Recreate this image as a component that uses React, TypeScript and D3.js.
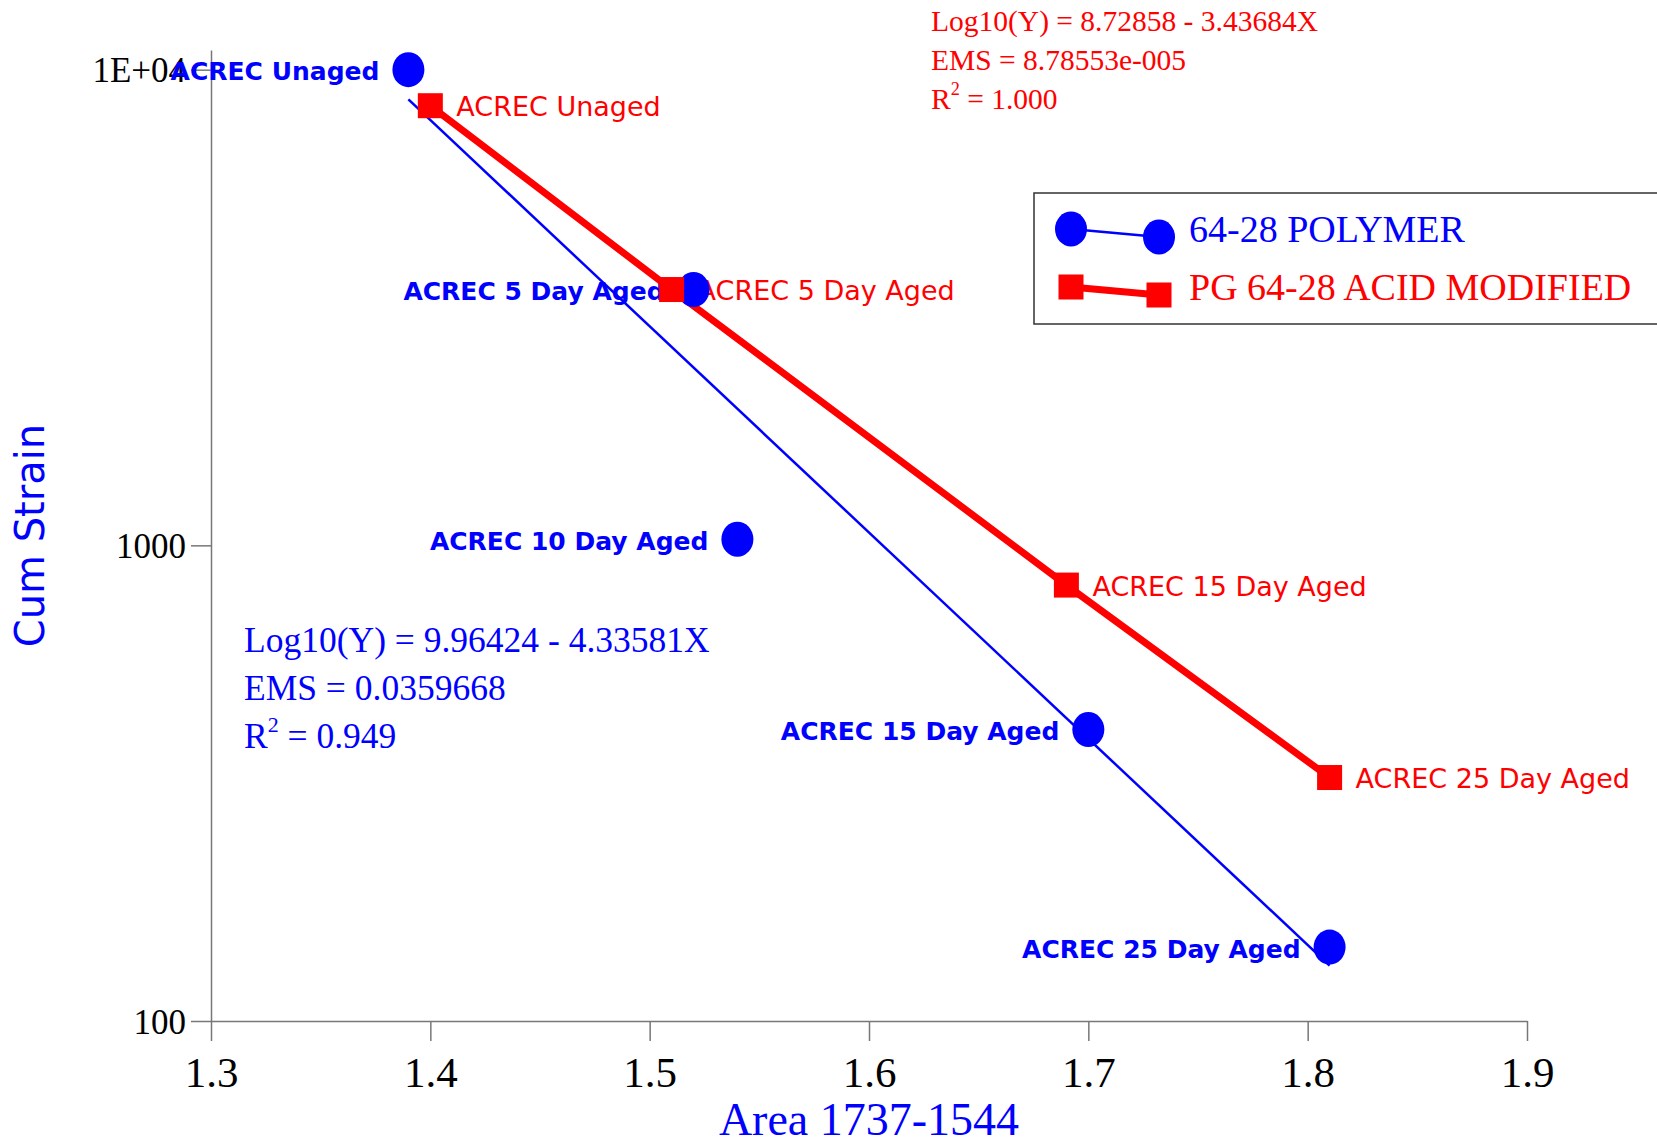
import React, { useEffect, useRef } from 'react';
import * as d3 from 'd3';

// 64-28 POLYMER (blue circles, fitted line)
const polymerLabels = ['ACREC Unaged', 'ACREC 5 Day Aged', 'ACREC 10 Day Aged', 'ACREC 15 Day Aged', 'ACREC 25 Day Aged'];
const polymerArea = [1.39, 1.52, 1.54, 1.7, 1.81];
const polymerStrain = [10000, 3450, 1030, 410, 143];
const polymerFit = [9.96424, -4.33581]; // log10(Y) = a + bX
const polymerStats = ['Log10(Y) = 9.96424 - 4.33581X', 'EMS = 0.0359668', '0.949'];

// PG 64-28 ACID MODIFIED (red squares, connected)
const acidLabels = ['ACREC Unaged', 'ACREC 5 Day Aged', 'ACREC 15 Day Aged', 'ACREC 25 Day Aged'];
const acidArea = [1.4, 1.51, 1.69, 1.81];
const acidStrain = [8400, 3450, 825, 325];
const acidStats = ['Log10(Y) = 8.72858 - 3.43684X', 'EMS = 8.78553e-005', '1.000'];

const legendNames = ['64-28 POLYMER', 'PG 64-28 ACID MODIFIED'];

const xTicks = [1.3, 1.4, 1.5, 1.6, 1.7, 1.8, 1.9];
const yMajor = [100, 1000, 10000];
const yMajorLabels = ['100', '1000', '1E+04'];

const W = 1657;
const H = 1144;
const BLUE = '#0000ff';
const RED = '#ff0000';
const SERIF = "'Liberation Serif', 'Times New Roman', serif";
const COMIC = "'Comic Sans MS', 'DejaVu Sans', sans-serif";

const App: React.FC = () => {
  const svgRef = useRef<SVGSVGElement>(null);

  useEffect(() => {
    if (!svgRef.current) return;
    const svg = d3.select(svgRef.current);
    svg.selectAll('*').remove();

    const left = 211, right = 1527, top = 50, bottom = 1021;

    const x = d3.scaleLinear().domain([1.3, 1.9]).range([left, right]);
    const y = d3.scaleLog().domain([100, 11000]).range([bottom, top]);

    // minor ticks
    const xMinor = d3.range(1.3, 1.9001, 0.025).filter(v => Math.abs(v * 10 - Math.round(v * 10)) > 1e-6);
    const yMinor: number[] = [];
    [100, 1000].forEach(d => { for (let k = 2; k <= 9; k++) yMinor.push(k * d); });

    const axisColor = '#777';

    const gx = svg.append('g').attr('transform', `translate(0,${bottom})`);
    gx.call(d3.axisBottom(x).tickValues(xMinor).tickSize(10).tickSizeOuter(0).tickFormat(() => ''));
    gx.call(d3.axisBottom(x).tickValues(xTicks).tickSize(20).tickSizeOuter(0).tickFormat(d3.format('.1f')));
    gx.selectAll('path, line').attr('stroke', axisColor).attr('stroke-width', 1.5);
    gx.selectAll('.tick text')
      .attr('y', 51).attr('dy', '0.35em')
      .attr('fill', '#000').style('font-family', SERIF).style('font-size', '43px');

    const gy = svg.append('g').attr('transform', `translate(${left},0)`);
    gy.call(d3.axisLeft(y).tickValues(yMinor).tickSize(10).tickSizeOuter(0).tickFormat(() => ''));
    gy.call(d3.axisLeft(y).tickValues(yMajor).tickSize(20).tickSizeOuter(0).tickPadding(5)
      .tickFormat((d, i) => yMajorLabels[i]));
    gy.selectAll('path, line').attr('stroke', axisColor).attr('stroke-width', 1.5);
    gy.selectAll('.tick text')
      .attr('dy', '0.35em')
      .attr('fill', '#000').style('font-family', SERIF).style('font-size', '35px');

    // axis titles
    svg.append('text')
      .attr('x', (left + right) / 2).attr('y', 1119)
      .attr('text-anchor', 'middle').attr('dominant-baseline', 'central')
      .attr('fill', BLUE).style('font-family', SERIF).style('font-size', '46px')
      .text('Area 1737-1544');

    svg.append('text')
      .attr('transform', `translate(30,${(top + bottom) / 2}) rotate(-90)`)
      .attr('text-anchor', 'middle').attr('dominant-baseline', 'central')
      .attr('fill', BLUE).style('font-family', "'DejaVu Sans', sans-serif").style('font-size', '40px')
      .text('Cum Strain');

    // point labels
    const polymer = polymerArea.map((a, i) => ({ a, s: polymerStrain[i], label: polymerLabels[i] }));
    const acid = acidArea.map((a, i) => ({ a, s: acidStrain[i], label: acidLabels[i] }));

    svg.append('g').selectAll('text').data(polymer).enter().append('text')
      .attr('x', d => x(d.a) - 29).attr('y', d => y(d.s) + 2)
      .attr('text-anchor', 'end').attr('dominant-baseline', 'central')
      .attr('fill', BLUE).style('font-family', COMIC).style('font-size', '25px').style('font-weight', 'bold')
      .text(d => d.label);

    svg.append('g').selectAll('text').data(acid).enter().append('text')
      .attr('x', d => x(d.a) + 26).attr('y', d => y(d.s) + 1)
      .attr('text-anchor', 'start').attr('dominant-baseline', 'central')
      .attr('fill', RED).style('font-family', COMIC).style('font-size', '27px')
      .text(d => d.label);

    // fitted line for polymer
    const fitX = d3.extent(polymerArea) as [number, number];
    const line = d3.line<[number, number]>().x(d => x(d[0])).y(d => y(d[1]));
    svg.append('path')
      .datum(fitX.map(v => [v, Math.pow(10, polymerFit[0] + polymerFit[1] * v)] as [number, number]))
      .attr('d', line).attr('fill', 'none').attr('stroke', BLUE).attr('stroke-width', 2.5);

    // acid modified connected line
    svg.append('path')
      .datum(acid.map(d => [d.a, d.s] as [number, number]))
      .attr('d', line).attr('fill', 'none').attr('stroke', RED).attr('stroke-width', 7)
      .attr('stroke-linejoin', 'miter');

    // markers
    svg.append('g').selectAll('ellipse').data(polymer).enter().append('ellipse')
      .attr('cx', d => x(d.a)).attr('cy', d => y(d.s)).attr('rx', 16).attr('ry', 17.5)
      .attr('fill', BLUE);

    const sq = 25;
    svg.append('g').selectAll('rect').data(acid).enter().append('rect')
      .attr('x', d => x(d.a) - sq / 2).attr('y', d => y(d.s) - sq / 2)
      .attr('width', sq).attr('height', sq).attr('fill', RED);

    // regression stats
    const stats = (lines: string[], color: string, x0: number, y0: number, step: number, size: number) => {
      const g = svg.append('g').attr('fill', color).style('font-family', SERIF).style('font-size', `${size}px`);
      g.append('text').attr('x', x0).attr('y', y0).attr('dominant-baseline', 'central').text(lines[0]);
      g.append('text').attr('x', x0).attr('y', y0 + step).attr('dominant-baseline', 'central').text(lines[1]);
      const t = g.append('text').attr('x', x0).attr('y', y0 + 2 * step).attr('dominant-baseline', 'central');
      t.append('tspan').text('R');
      t.append('tspan').attr('dy', -size * 0.35).style('font-size', `${size * 0.62}px`).text('2');
      t.append('tspan').attr('dy', size * 0.35).text(` = ${lines[2]}`);
    };
    stats(polymerStats, BLUE, 244, 640, 48, 35.5);
    stats(acidStats, RED, 931, 21, 39, 29.5);

    // legend
    const lg = svg.append('g');
    lg.append('rect')
      .attr('x', 1034).attr('y', 193).attr('width', 700).attr('height', 131)
      .attr('fill', 'white').attr('stroke', '#333').attr('stroke-width', 1.5);

    lg.append('line').attr('x1', 1071).attr('y1', 229).attr('x2', 1159).attr('y2', 237)
      .attr('stroke', BLUE).attr('stroke-width', 2.5);
    [[1071, 229], [1159, 237]].forEach(([cx, cy]) => {
      lg.append('ellipse').attr('cx', cx).attr('cy', cy).attr('rx', 16).attr('ry', 17.5).attr('fill', BLUE);
    });
    lg.append('line').attr('x1', 1071).attr('y1', 287).attr('x2', 1159).attr('y2', 295)
      .attr('stroke', RED).attr('stroke-width', 7);
    [[1071, 287], [1159, 295]].forEach(([cx, cy]) => {
      lg.append('rect').attr('x', cx - sq / 2).attr('y', cy - sq / 2).attr('width', sq).attr('height', sq).attr('fill', RED);
    });

    lg.append('text').attr('x', 1189).attr('y', 229).attr('dominant-baseline', 'central')
      .attr('fill', BLUE).style('font-family', SERIF).style('font-size', '38px').text(legendNames[0]);
    lg.append('text').attr('x', 1189).attr('y', 287).attr('dominant-baseline', 'central')
      .attr('fill', RED).style('font-family', SERIF).style('font-size', '38px').text(legendNames[1]);
  }, []);

  return (
    <svg
      ref={svgRef}
      width={W}
      height={H}
      style={{ position: 'absolute', left: 0, top: 0, background: 'white', display: 'block' }}
    />
  );
};

export default App;
